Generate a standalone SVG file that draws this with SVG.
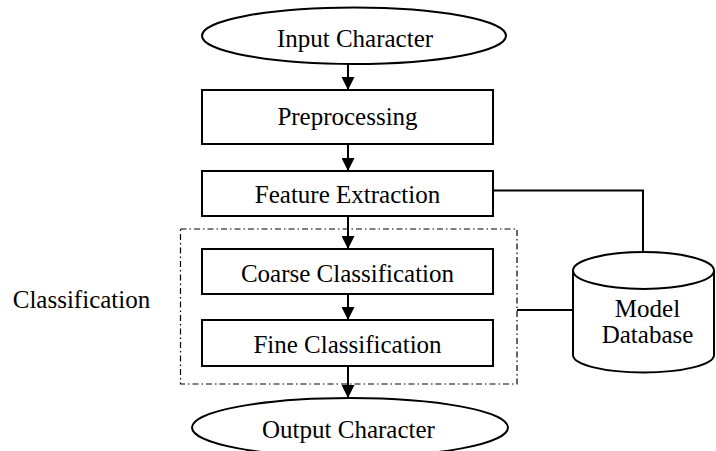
<svg xmlns="http://www.w3.org/2000/svg" width="716" height="451" viewBox="0 0 716 451">
  <style>
    .shape { fill: #ffffff; stroke: #000000; stroke-width: 2; }
    .label { font-family: 'Liberation Serif', 'DejaVu Serif', serif; font-size: 25px; fill: #000000; text-anchor: middle; }
    .wire { fill: none; stroke: #000000; stroke-width: 2; }
    .group-frame { fill: none; stroke: #000000; stroke-width: 1.2; stroke-dasharray: 6 3 1.5 3; }
  </style>
  <defs>
    <marker id="arrow" viewBox="0 0 13 13" refX="13" refY="6.5" markerWidth="13" markerHeight="13" markerUnits="userSpaceOnUse" orient="auto">
      <path d="M0,0 L13,6.5 L0,13 Z" fill="#000000"/>
    </marker>
  </defs>

  <rect width="716" height="451" fill="#ffffff"/>

  <!-- classification group frame -->
  <g id="classification-group">
    <rect class="group-frame" x="180.5" y="229" width="336.5" height="155"/>
    <text class="label" x="81.5" y="308">Classification</text>
  </g>

  <!-- connectors -->
  <g id="connectors">
    <line class="wire" x1="348" y1="64" x2="348" y2="90" marker-end="url(#arrow)"/>
    <line class="wire" x1="348" y1="144" x2="348" y2="171" marker-end="url(#arrow)"/>
    <line class="wire" x1="348" y1="216" x2="348" y2="249" marker-end="url(#arrow)"/>
    <line class="wire" x1="348" y1="294" x2="348" y2="320" marker-end="url(#arrow)"/>
    <line class="wire" x1="348" y1="366" x2="348" y2="398" marker-end="url(#arrow)"/>
    <polyline class="wire" points="493,190.5 643,190.5 643,252"/>
    <line class="wire" x1="517" y1="310" x2="573" y2="310"/>
  </g>

  <g id="input-character">
    <ellipse class="shape" cx="354" cy="35.7" rx="152" ry="28.3"/>
    <text class="label" x="355" y="46.7">Input Character</text>
  </g>

  <g id="preprocessing">
    <rect class="shape" x="202" y="90" width="291" height="54"/>
    <text class="label" x="347.5" y="125">Preprocessing</text>
  </g>

  <g id="feature-extraction">
    <rect class="shape" x="202" y="171" width="291" height="45"/>
    <text class="label" x="347.5" y="202.5">Feature Extraction</text>
  </g>

  <g id="coarse-classification">
    <rect class="shape" x="202" y="249" width="291" height="45"/>
    <text class="label" x="347.5" y="281.5">Coarse Classification</text>
  </g>

  <g id="fine-classification">
    <rect class="shape" x="202" y="320" width="291" height="46"/>
    <text class="label" x="347.5" y="353.3">Fine Classification</text>
  </g>

  <g id="output-character">
    <ellipse class="shape" cx="350" cy="427.5" rx="158" ry="29.5"/>
    <text class="label" x="348.5" y="438">Output Character</text>
  </g>

  <g id="model-database">
    <path class="shape" d="M573,270.5 L573,355 A70.5,17.5 0 0 0 714,355 L714,270.5"/>
    <ellipse class="shape" cx="643.5" cy="270.5" rx="70.5" ry="18.5"/>
    <text class="label" x="647.5" y="316.7">Model</text>
    <text class="label" x="647.5" y="343">Database</text>
  </g>
</svg>
